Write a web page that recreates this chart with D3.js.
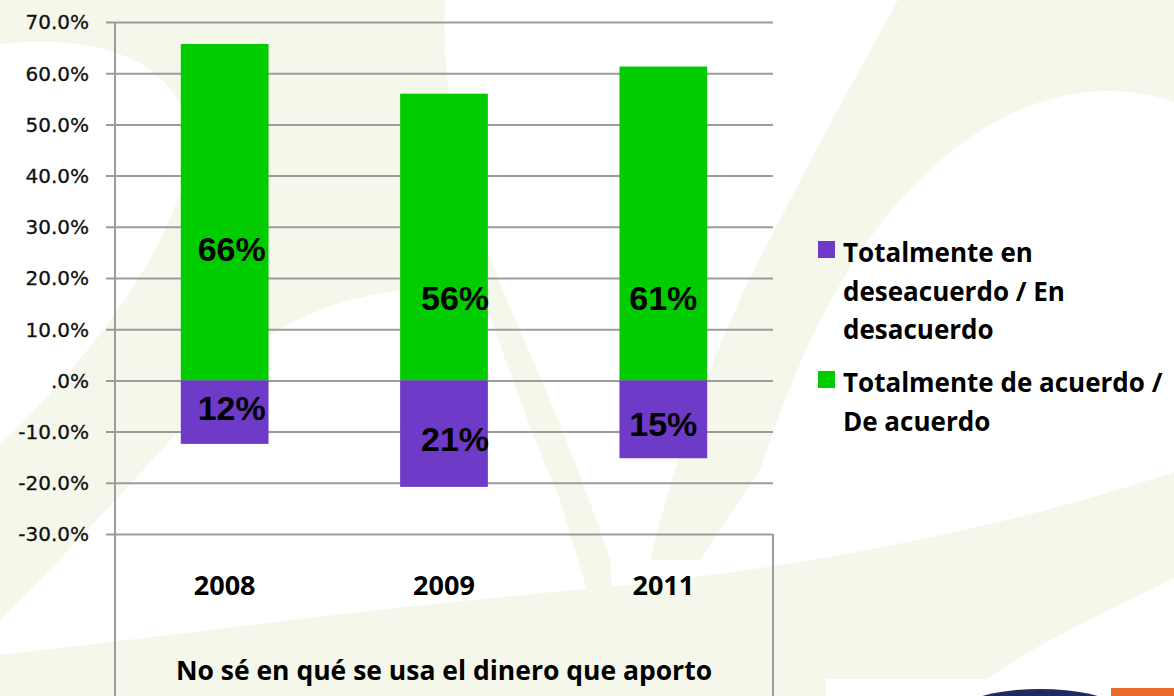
<!DOCTYPE html>
<html>
<head>
<meta charset="utf-8">
<script src="https://cdn.jsdelivr.net/npm/d3@7"></script>
<style>
  html, body { margin: 0; padding: 0; background: #fff; }
  svg { display: block; }
</style>
</head>
<body>
<svg id="chart" width="1174" height="696"></svg>
<script>
// data
const years      = ["2008", "2009", "2011"];
const agree      = [65.7, 56.0, 61.3];     // Totalmente de acuerdo / De acuerdo
const disagree   = [-12.4, -20.8, -15.2];  // Totalmente en desacuerdo / En desacuerdo
const agreeText  = ["66%", "56%", "61%"];
const disagreeText = ["12%", "21%", "15%"];
const yTicks     = [-30, -20, -10, 0, 10, 20, 30, 40, 50, 60, 70];
const legendLines = [
    ["Totalmente en", "deseacuerdo / En", "desacuerdo"],
    ["Totalmente de acuerdo /", "De acuerdo"]
];
const chartTitle = "No sé en qué se usa el dinero que aporto";

const GREEN = "#00cc00";
const PURPLE = "#6e3ac8";
const PALE = "#f4f7ea";
const GRID = "#9c9c9c";

const svg = d3.select("#chart");

// --- background swooshes (faint watermark) ---
const bg = svg.append("g");
bg.append("rect").attr("width", 1174).attr("height", 696).attr("fill", "#fff");
// left band
bg.append("path").attr("fill", PALE)
    .attr("d", "M0,0 L445,0 C440,110 470,220 520,330 C550,400 580,470 610,560 L620,696 L0,696 Z");
// white blob top-left
bg.append("path").attr("fill", "#fff")
    .attr("d", "M0,44 C90,34 170,55 188,125 C200,200 120,330 0,445 Z");
// white oval in the middle, reaching the left edge lower down
bg.append("path").attr("fill", "#fff")
    .attr("d", "M245,355 C310,295 420,280 482,292 C505,360 530,430 560,500 L590,600 L600,696 L0,696 L0,620 C100,520 190,420 245,355 Z");
// right band
bg.append("path").attr("fill", PALE)
    .attr("d", "M898,0 L1174,0 L1174,102 C1080,70 980,110 900,200 C830,280 790,380 760,470 L700,560 L650,560 C680,440 720,330 780,220 C820,140 860,70 898,0 Z");
// bottom band
bg.append("path").attr("fill", PALE)
    .attr("d", "M0,655 C200,632 400,605 600,588 C800,568 1000,530 1174,472 L1174,578 C1100,615 1020,650 965,696 L0,696 Z");
// logo strip bottom right
bg.append("rect").attr("x", 826).attr("y", 679).attr("width", 348).attr("height", 17).attr("fill", "#fff");
bg.append("ellipse").attr("cx", 1040).attr("cy", 704).attr("rx", 68).attr("ry", 15).attr("fill", "#1f2b5e");
bg.append("rect").attr("x", 1111).attr("y", 688).attr("width", 63).attr("height", 8).attr("fill", "#e8692a");

// --- scales ---
const plotLeft = 115, plotRight = 773;
const x = d3.scaleBand()
    .domain(years)
    .range([plotLeft, plotRight])
    .paddingInner(0.6)
    .paddingOuter(0.3);

const y = d3.scaleLinear()
    .domain([-30, 70])
    .range([534, 22]);

// gridlines + tick labels from one axis anchored on the right edge
const gridLen = plotRight - 106;
const yAxis = d3.axisLeft(y)
    .tickValues(yTicks)
    .tickSize(gridLen)
    .tickPadding(17)
    .tickFormat(d => d === 0 ? ".0%" : d.toFixed(1) + "%");

const axisG = svg.append("g")
    .attr("transform", `translate(${plotRight},0)`)
    .call(yAxis);
axisG.select(".domain").remove();
axisG.selectAll(".tick line")
    .attr("stroke", GRID)
    .attr("stroke-width", 2);
axisG.selectAll(".tick text")
    .attr("fill", "#111")
    .attr("font-family", "DejaVu Sans")
    .attr("font-size", 20)
    .attr("stroke", "#111")
    .attr("stroke-width", 0.3)
    .attr("dy", "0.34em");

// vertical axis line and category box
svg.append("line")
    .attr("x1", plotLeft).attr("x2", plotLeft)
    .attr("y1", y(70)).attr("y2", 696)
    .attr("stroke", GRID).attr("stroke-width", 2);
svg.append("line")
    .attr("x1", plotRight).attr("x2", plotRight)
    .attr("y1", y(-30)).attr("y2", 696)
    .attr("stroke", GRID).attr("stroke-width", 2);

// --- bars ---
const rows = years.map((yr, i) => ({ yr, agree: agree[i], disagree: disagree[i], i }));

svg.append("g").selectAll("rect")
    .data(rows)
    .join("rect")
    .attr("x", d => x(d.yr))
    .attr("width", x.bandwidth())
    .attr("y", d => y(d.agree))
    .attr("height", d => y(0) - y(d.agree))
    .attr("fill", GREEN);

svg.append("g").selectAll("rect")
    .data(rows)
    .join("rect")
    .attr("x", d => x(d.yr))
    .attr("width", x.bandwidth())
    .attr("y", y(0))
    .attr("height", d => y(d.disagree) - y(0))
    .attr("fill", PURPLE);

// --- data labels (nudged like the original) ---
const labelNudge = {
    agree:    [[7, 37], [11, 61], [0, 74]],
    disagree: [[7, -4], [11, 5], [0, 4]]
};

function drawLabels(key, texts) {
    svg.append("g").selectAll("text")
        .data(rows)
        .join("text")
        .attr("x", d => x(d.yr) + x.bandwidth() / 2 + labelNudge[key][d.i][0])
        .attr("y", d => y(d[key] / 2) + labelNudge[key][d.i][1])
        .attr("dy", "0.36em")
        .attr("text-anchor", "middle")
        .attr("font-family", "Liberation Sans, Arial, sans-serif")
        .attr("font-weight", "bold")
        .attr("font-size", 34)
        .attr("fill", "#000")
        .text(d => texts[d.i]);
}
drawLabels("agree", agreeText);
drawLabels("disagree", disagreeText);

// --- category labels and title ---
svg.append("g").selectAll("text")
    .data(years)
    .join("text")
    .attr("x", d => x(d) + x.bandwidth() / 2)
    .attr("y", 595)
    .attr("text-anchor", "middle")
    .attr("font-family", "Open Sans")
    .attr("font-weight", "bold")
    .attr("font-size", 27)
    .attr("fill", "#000")
    .text(d => d);

svg.append("text")
    .attr("x", (plotLeft + plotRight) / 2)
    .attr("y", 680)
    .attr("text-anchor", "middle")
    .attr("font-family", "Open Sans")
    .attr("font-weight", "bold")
    .attr("font-size", 26.5)
    .attr("fill", "#000")
    .text(chartTitle);

// --- legend ---
const legendColors = [PURPLE, GREEN];
const legendTop = [262, 392];
const legend = svg.append("g");
legendLines.forEach((lines, k) => {
    legend.append("rect")
        .attr("x", 818).attr("y", legendTop[k] - 21)
        .attr("width", 17).attr("height", 17)
        .attr("fill", legendColors[k]);
    legend.append("text")
        .attr("x", 843)
        .attr("y", legendTop[k])
        .attr("font-family", "Open Sans")
        .attr("font-weight", "bold")
        .attr("font-size", 26)
        .attr("fill", "#000")
        .selectAll("tspan")
        .data(lines)
        .join("tspan")
        .attr("x", 843)
        .attr("dy", (d, j) => j === 0 ? 0 : 38.5)
        .text(d => d);
});
</script>
</body>
</html>
